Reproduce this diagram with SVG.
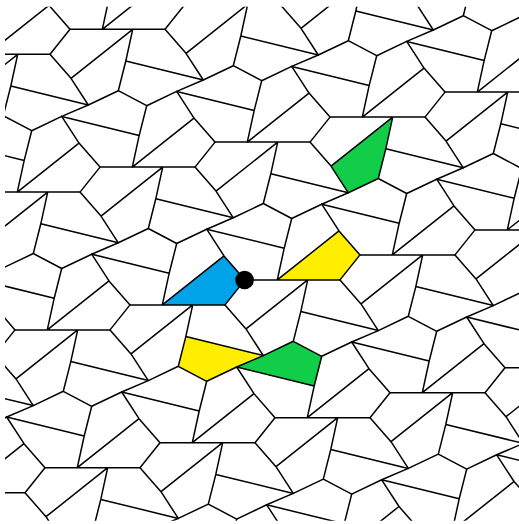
<svg xmlns="http://www.w3.org/2000/svg" xmlns:xlink="http://www.w3.org/1999/xlink" width="519" height="524" viewBox="0 0 519 524">
<style>
.edge{fill:none;stroke:#000;stroke-width:1.5;stroke-linejoin:round;stroke-linecap:round}
.blue{fill:#00A2E8}
.yellow{fill:#FFEE00}
.green{fill:#12CD48}
</style>
<defs>
<clipPath id="frame"><rect x="5" y="6.7" width="514" height="514"/></clipPath>
<g id="cell">
<path class="edge" d="M0,0 H95 L115,-25 L94,-49 L76.7,-75.7 L46.7,-61.4 L39.2,-31.7 L32.3,0 M32.3,0 L94,-49 M-20,25 L1,49 L18.3,75.7 L48.3,61.4 L55.8,31.7 L62.7,0 L1,49 M133.3,50.7 L55.8,31.7 M-38.3,-50.7 L39.2,-31.7 M-8.3,87.1 L18.3,75.7 M48.3,61.4 L76.7,76.4"/>
</g>
</defs>
<rect width="519" height="524" fill="#fff"/>
<g id="highlighted-tiles">
<polygon id="tile-blue" class="blue" points="162.3,304.9 225,304.9 245,279.9 224,255.9"/>
<polygon id="tile-yellow-1" class="yellow" points="277.3,279.9 340,279.9 360,254.9 339,230.9"/>
<polygon id="tile-green-1" class="green" points="392.7,117.1 331,166.1 348.3,192.8 378.3,178.5"/>
<polygon id="tile-yellow-2" class="yellow" points="263.3,355.6 236.7,367 206.7,381.3 178.3,366.3 185.8,336.6"/>
<polygon id="tile-green-2" class="green" points="236.7,367 263.3,355.6 293.3,341.3 321.7,356.3 314.2,386"/>
</g>
<g id="tiling" clip-path="url(#frame)">
<use href="#cell" x="-75" y="-83.5"/>
<use href="#cell" x="-45" y="54.3"/>
<use href="#cell" x="70" y="29.3"/>
<use href="#cell" x="185" y="4.3"/>
<use href="#cell" x="300" y="-20.7"/>
<use href="#cell" x="415" y="-45.7"/>
<use href="#cell" x="530" y="-70.7"/>
<use href="#cell" x="-130" y="217.1"/>
<use href="#cell" x="-15" y="192.1"/>
<use href="#cell" x="100" y="167.1"/>
<use href="#cell" x="215" y="142.1"/>
<use href="#cell" x="330" y="117.1"/>
<use href="#cell" x="445" y="92.1"/>
<use href="#cell" x="-100" y="354.9"/>
<use href="#cell" x="15" y="329.9"/>
<use href="#cell" x="130" y="304.9"/>
<use href="#cell" x="245" y="279.9"/>
<use href="#cell" x="360" y="254.9"/>
<use href="#cell" x="475" y="229.9"/>
<use href="#cell" x="-70" y="492.7"/>
<use href="#cell" x="45" y="467.7"/>
<use href="#cell" x="160" y="442.7"/>
<use href="#cell" x="275" y="417.7"/>
<use href="#cell" x="390" y="392.7"/>
<use href="#cell" x="505" y="367.7"/>
<use href="#cell" x="190" y="580.5"/>
<use href="#cell" x="305" y="555.5"/>
<use href="#cell" x="420" y="530.5"/>
<use href="#cell" x="535" y="505.5"/>
</g>
<g id="vertex-dot">
<circle cx="244.6" cy="280" r="9.3" fill="#000"/>
</g>
</svg>
